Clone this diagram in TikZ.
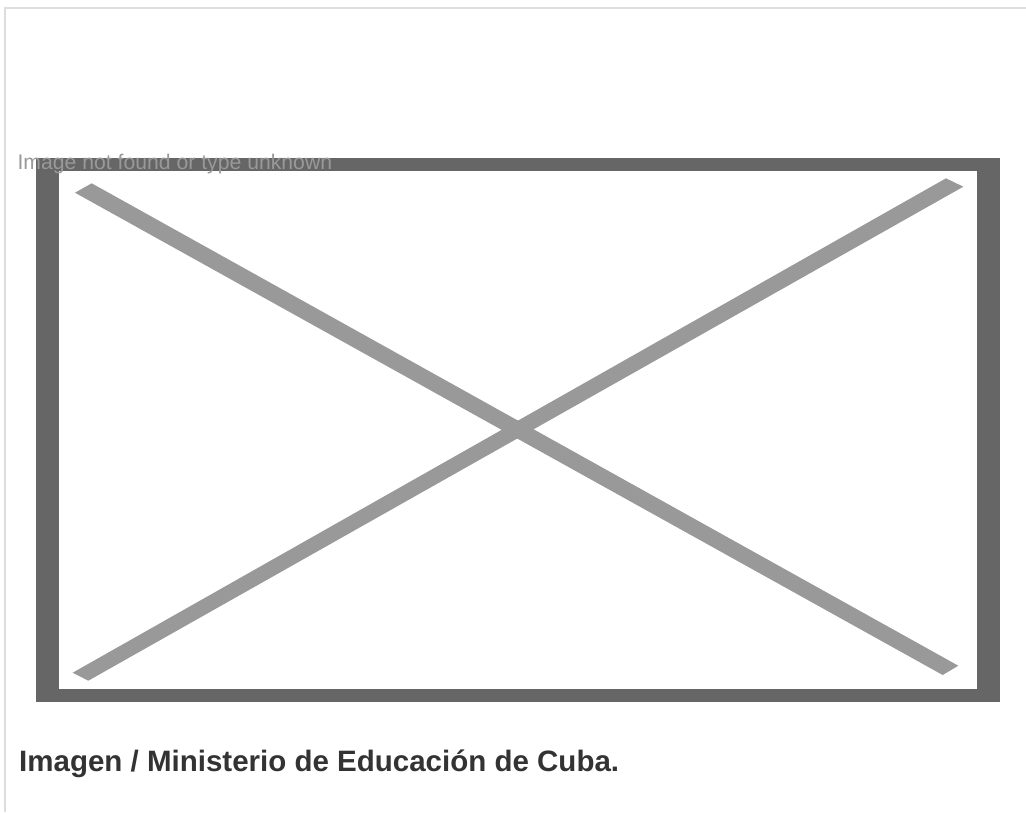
\documentclass[tikz,border=0pt]{standalone}
\usepackage{fontspec}
\setmainfont{Liberation Sans}
\definecolor{framegray}{HTML}{666666}
\definecolor{crossgray}{HTML}{999999}
\definecolor{pageline}{HTML}{DDDDDD}
\definecolor{captiongray}{HTML}{333333}
\definecolor{msggray}{HTML}{999999}
\begin{document}
\begin{tikzpicture}[x=1pt,y=-1pt,
  msg/.style={inner sep=0pt, anchor=base west, text=msggray, font=\fontsize{21.2}{25}\selectfont},
  caption/.style={inner sep=0pt, anchor=base west, text=captiongray, font=\bfseries\fontsize{29.5}{34}\selectfont}]
\useasboundingbox (0,0) rectangle (1026,812);
\fill[white] (0,0) rectangle (1026,812);
% page border lines
\draw[pageline, line width=2pt] (5,812) -- (5,8) -- (1026,8);
% frame
\fill[framegray] (36,158) rectangle (1000,702);
\fill[white] (59,170.7) rectangle (977,689.3);
% cross
\fill[crossgray] (75,192.7) -- (91.7,183.3) -- (958.3,665.7) -- (942.7,675) -- cycle;
\fill[crossgray] (72.7,672.7) -- (88.3,680.7) -- (963.3,186.7) -- (946,178.3) -- cycle;
% texts
\node[msg] (msgtext) at (17.3,169) {Image not found or type unknown};
\node[caption] (captext) at (19,771) {Imagen / Ministerio de Educación de Cuba.};
\end{tikzpicture}
\end{document}
